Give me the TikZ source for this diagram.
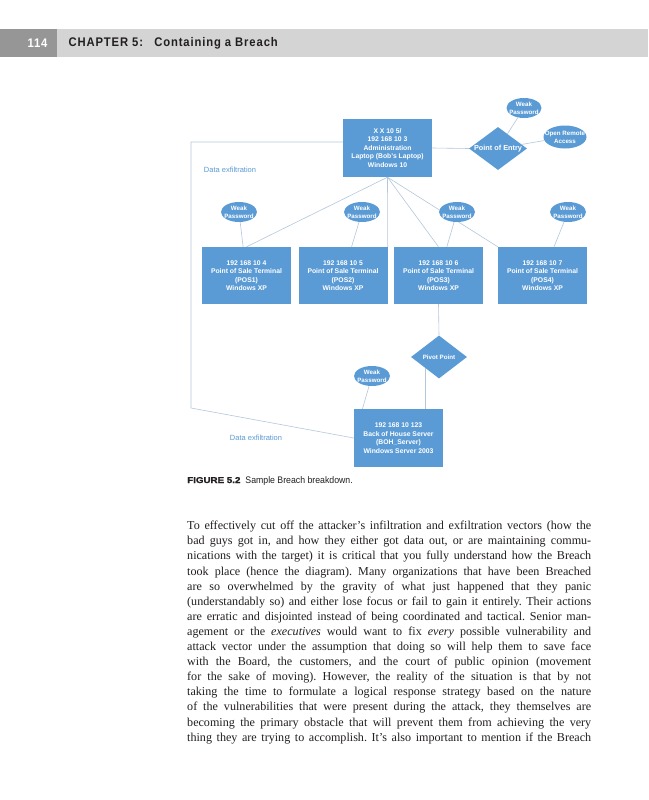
\documentclass[tikz,border=0pt]{standalone}
\usepackage{fontspec}
\setmainfont{Liberation Serif}
\setsansfont{Liberation Sans}
\newfontfamily\headfont[FakeStretch=0.9, LetterSpace=7]{Liberation Sans}
\newfontfamily\capfont[FakeStretch=0.92]{Liberation Sans}
\newfontfamily\figfont[FakeStretch=1.15, FakeBold=1.5]{Liberation Sans}
\usetikzlibrary{shapes.geometric,positioning}

\definecolor{boxblue}{RGB}{91,155,213}
\definecolor{linkgray}{RGB}{180,199,220}
\definecolor{barlight}{RGB}{212,212,212}
\definecolor{bardark}{RGB}{150,150,150}
\definecolor{inkblack}{RGB}{35,31,32}

\newcommand{\bodyline}[1]{\par\noindent\hbox to 404pt{\spaceskip=0pt\xspaceskip=0pt\frenchspacing #1}\par}

\tikzset{
  hostbox/.style={rectangle, fill=boxblue, text=white, minimum width=89, minimum height=58,
    inner sep=0, align=center, font=\sffamily\bfseries\fontsize{6.8}{8.5}\selectfont},
  weakpw/.style={ellipse, fill=boxblue, minimum width=36, minimum height=20, inner sep=0},
  gate/.style={diamond, fill=boxblue, minimum width=57, minimum height=43, inner sep=0},
  pwtext/.style={text=white, align=center, inner sep=0, font=\sffamily\bfseries\fontsize{6.2}{8}\selectfont},
  link/.style={draw=linkgray, line width=0.6pt},
  exfil/.style={text=boxblue, font=\sffamily\fontsize{7.5}{8}\selectfont}
}

\begin{document}
\begin{tikzpicture}[x=1pt, y=-1pt]
    \useasboundingbox (0,0) rectangle (648,800);
    \fill[white] (0,0) rectangle (648,800);

    % Running head
    \fill[barlight] (0,29) rectangle (648,57);
    \fill[bardark] (0,29) rectangle (57,57);
    \node[anchor=east, text=white, font=\headfont\bfseries\fontsize{12.5}{12.5}\selectfont] (pagenum) at (51,43.5) {114};
    \node[anchor=west, text=inkblack, font=\headfont\bfseries\fontsize{12.5}{12.5}\selectfont] (chapter) at (65,43.5) {CHAPTER 5:\hspace{6pt} Containing a Breach};

    % Hosts
    \node[hostbox] (laptop) at (387.5,148) {X X 10 5/\\192 168 10 3\\Administration\\Laptop (Bob's Laptop)\\Windows 10};
    \foreach \i/\ip/\x in {1/4/246.5, 2/5/343, 3/6/438.5, 4/7/542.5}
    {
        \node[hostbox, minimum height=57] (pos\i) at (\x,275.5) {192 168 10 \ip\\Point of Sale Terminal\\(POS\i)\\Windows XP};
    }
    \node[hostbox] (server) at (398.5,438) {192 168 10 123\\Back of House Server\\(BOH\_Server)\\Windows Server 2003};

    % Laptop to the terminals
    \draw[link] (laptop.south) -- (pos1.north);
    \draw[link] (laptop.south) -- (pos2.north east);
    \draw[link] (laptop.south) -- (pos3.north);
    \draw[link] (laptop.south) -- (pos4.north west);

    % Weak passwords on the terminals
    \foreach \i/\x in {1/239, 2/362, 3/457, 4/568}
    {
        \node[weakpw, label={[pwtext]center:{Weak\\Password}}] (wp\i) at (\x,212) {};
        \draw[link] (wp\i) -- (pos\i);
    }

    % Point of entry
    \node[gate, minimum width=58, label={[pwtext, font=\sffamily\bfseries\fontsize{7.3}{8}\selectfont]center:Point of Entry}] (entry) at (498,148.5) {};
    \node[weakpw, minimum width=35, label={[pwtext]center:{Weak\\Password}}] (entrypw) at (524,108) {};
    \node[weakpw, minimum width=43, minimum height=23, label={[pwtext]center:{Open Remote\\Access}}] (remote) at (565,137) {};
    \draw[link] (laptop.east) -- (entry.west);
    \draw[link] (entry) -- (entrypw);
    \draw[link] (entry) -- (remote);

    % Pivot to the server
    \node[gate, minimum width=56, label={[pwtext]center:Pivot Point}] (pivot) at (439,357) {};
    \node[weakpw, label={[pwtext]center:{Weak\\Password}}] (serverpw) at (372,376) {};
    \draw[link] (pos3.south) -- (pivot.north);
    \draw[link] (pivot.south west) -- (pivot.south west |- server.north);
    \draw[link] (serverpw) -- (server.141);

    % Data exfiltration path
    \coordinate (exfilcorner) at (191,408);
    \draw[link] ([yshift=6pt]laptop.west) -| (exfilcorner) -- (server.west);
    \node[exfil] (exfilA) at (230,170) {Data exfiltration};
    \node[exfil] (exfilB) at (256,438) {Data exfiltration};

    % Caption
    \node[anchor=base west, inner sep=0, text=inkblack] (caption) at (187,483)
        {{\figfont\bfseries\fontsize{8.5}{9}\selectfont FIGURE 5.2}\hspace{5pt}{\capfont\fontsize{9.5}{10}\selectfont Sample Breach breakdown.}};

    % Body text
    \node[anchor=north west, inner sep=0, text width=404, align=justify, text=inkblack, font=\fontsize{12.1}{15.1}\selectfont] (body) at (187,514.4)
    {\bodyline{\strut To effectively cut off the attacker’s infiltration and exfiltration vectors (how the}%
     \bodyline{bad guys got in, and how they either got data out, or are maintaining commu-}%
     \bodyline{nications with the target) it is critical that you fully understand how the Breach}%
     \bodyline{took place (hence the diagram). Many organizations that have been Breached}%
     \bodyline{are so overwhelmed by the gravity of what just happened that they panic}%
     \bodyline{(understandably so) and either lose focus or fail to gain it entirely. Their actions}%
     \bodyline{are erratic and disjointed instead of being coordinated and tactical. Senior man-}%
     \bodyline{agement or the \emph{executives} would want to fix \emph{every} possible vulnerability and}%
     \bodyline{attack vector under the assumption that doing so will help them to save face}%
     \bodyline{with the Board, the customers, and the court of public opinion (movement}%
     \bodyline{for the sake of moving). However, the reality of the situation is that by not}%
     \bodyline{taking the time to formulate a logical response strategy based on the nature}%
     \bodyline{of the vulnerabilities that were present during the attack, they themselves are}%
     \bodyline{becoming the primary obstacle that will prevent them from achieving the very}%
     \bodyline{thing they are trying to accomplish. It’s also important to mention if the Breach}};
\end{tikzpicture}
\end{document}
